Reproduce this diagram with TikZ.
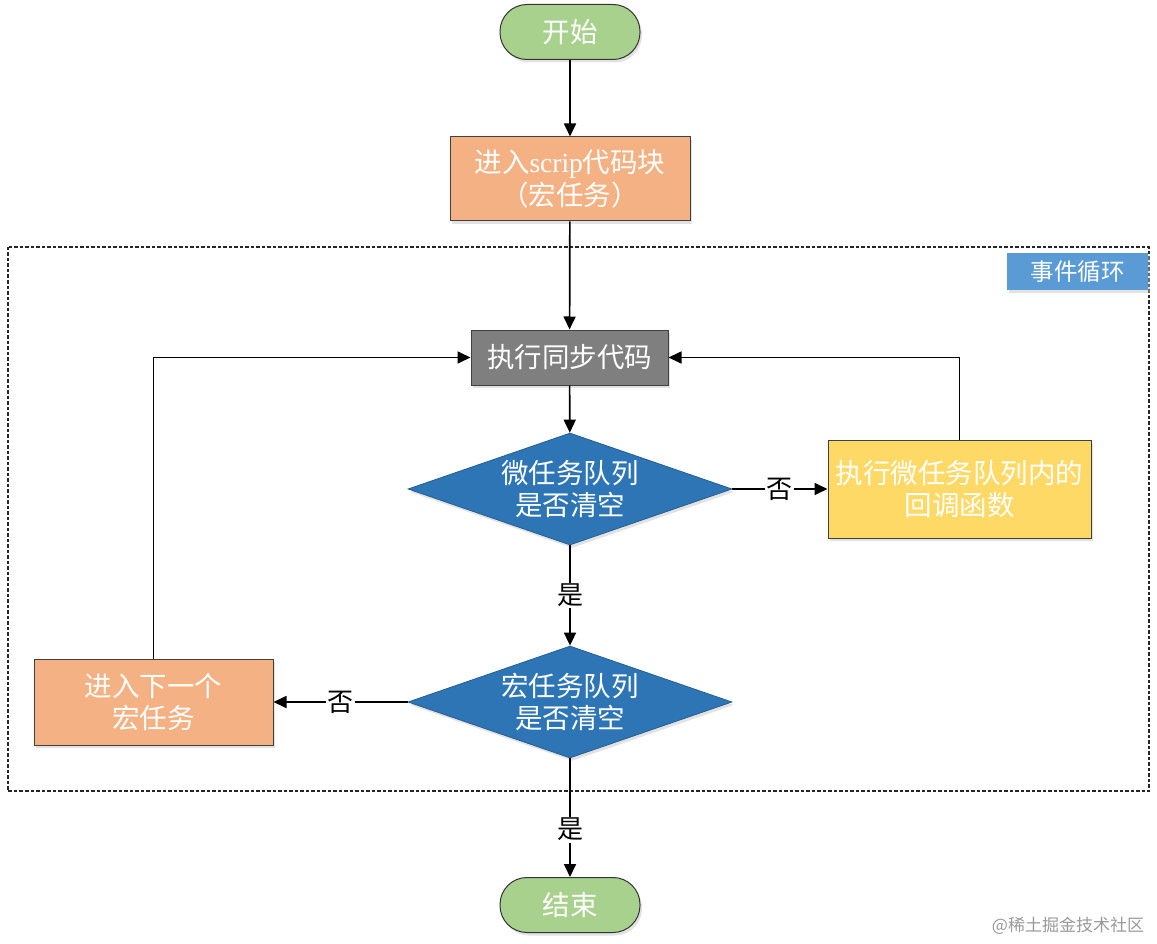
\documentclass[tikz,border=0pt]{standalone}
\usepackage{fontspec}
\newfontfamily\cjkfont{Noto Sans CJK SC}
\newfontfamily\latinserif{Liberation Serif}
\usetikzlibrary{arrows.meta,shapes.geometric,shadows}

\definecolor{termgreen}{HTML}{A9D18E}
\definecolor{macroorange}{HTML}{F4B183}
\definecolor{syncgray}{HTML}{7F7F7F}
\definecolor{checkblue}{HTML}{2E75B6}
\definecolor{microyellow}{HTML}{FFD966}
\definecolor{loopblue}{HTML}{5B9BD5}

\tikzset{
  boxtext/.style={font=\cjkfont\fontsize{27.5}{32.5}\selectfont, text=white, align=center, inner sep=0pt},
  softshadow/.style={drop shadow={shadow xshift=2pt, shadow yshift=-3pt, fill=black!25, opacity=.45}},
  terminal/.style={boxtext, rectangle, rounded corners=27pt, fill=termgreen, draw=black!80, line width=1pt,
    minimum width=140pt, minimum height=55pt, softshadow},
  process/.style={boxtext, rectangle, draw=black!75, line width=1pt, softshadow},
  check/.style={boxtext, diamond, aspect=2.9, fill=checkblue, draw=checkblue!80!black, line width=.8pt,
    minimum width=324pt, minimum height=112pt, softshadow},
  flow/.style={line width=1.7pt, -{Triangle[length=13pt,width=12pt]}},
  answer/.style={font=\cjkfont\fontsize{26}{26}\selectfont, fill=white, inner sep=1.5pt}
}

\begin{document}
\begin{tikzpicture}[x=1pt,y=1pt,yscale=-1]
  \useasboundingbox (0,0) rectangle (1157,944); % canvas of the picture

  % event loop frame
  \draw[line width=1.2pt, dash pattern=on 3.5pt off 2pt, black!85] (8,247) rectangle (1149,791);
  \node[boxtext, fill=loopblue, minimum width=141pt, minimum height=37pt, font=\cjkfont\fontsize{23.5}{23.5}\selectfont,
    softshadow] (looplabel) at (1077.5,271.5) {事件循环}; % label of the loop

  % nodes
  \node[terminal] (start) at (570,32) {开始};
  \node[process, fill=macroorange, minimum width=240pt, minimum height=84pt] (script) at (570,179)
    {进入{\latinserif scrip}代码块\\（宏任务）};
  \node[process, fill=syncgray, minimum width=197pt, minimum height=55pt] (sync) at (569.5,357.5) {执行同步代码};
  \node[check] (microcheck) at (570,489) {微任务队列\\是否清空};
  \node[process, fill=microyellow, minimum width=263pt, minimum height=98pt] (microrun) at (959.5,489)
    {执行微任务队列内的\\回调函数};
  \node[check] (macrocheck) at (570,702) {宏任务队列\\是否清空};
  \node[process, fill=macroorange, minimum width=239pt, minimum height=86pt] (nextmacro) at (153.5,702)
    {进入下一个\\宏任务};
  \node[terminal] (finish) at (570,905) {结束};

  % connectors
  \draw[flow] (start) -- (script);
  \draw[flow] (script) -- (sync);
  \draw[flow] (sync) -- (microcheck);
  \draw[flow] (microcheck) -- node[answer] (nomicro) {否} (microrun);
  \draw[flow] (microrun.north) |- (sync.east);
  \draw[flow] (microcheck) -- node[answer] (yesmicro) {是} (macrocheck);
  \draw[flow] (macrocheck) -- node[answer] (nomacro) {否} (nextmacro);
  \draw[flow] (nextmacro.north) |- (sync.west);
  \draw[flow] (macrocheck) -- node[answer, pos=.6] (yesmacro) {是} (finish);

  % watermark
  \node[font=\cjkfont\fontsize{17}{17}\selectfont, text=black!40, inner sep=0pt] (mark) at (1068,926) {@稀土掘金技术社区};
\end{tikzpicture}
\end{document}
